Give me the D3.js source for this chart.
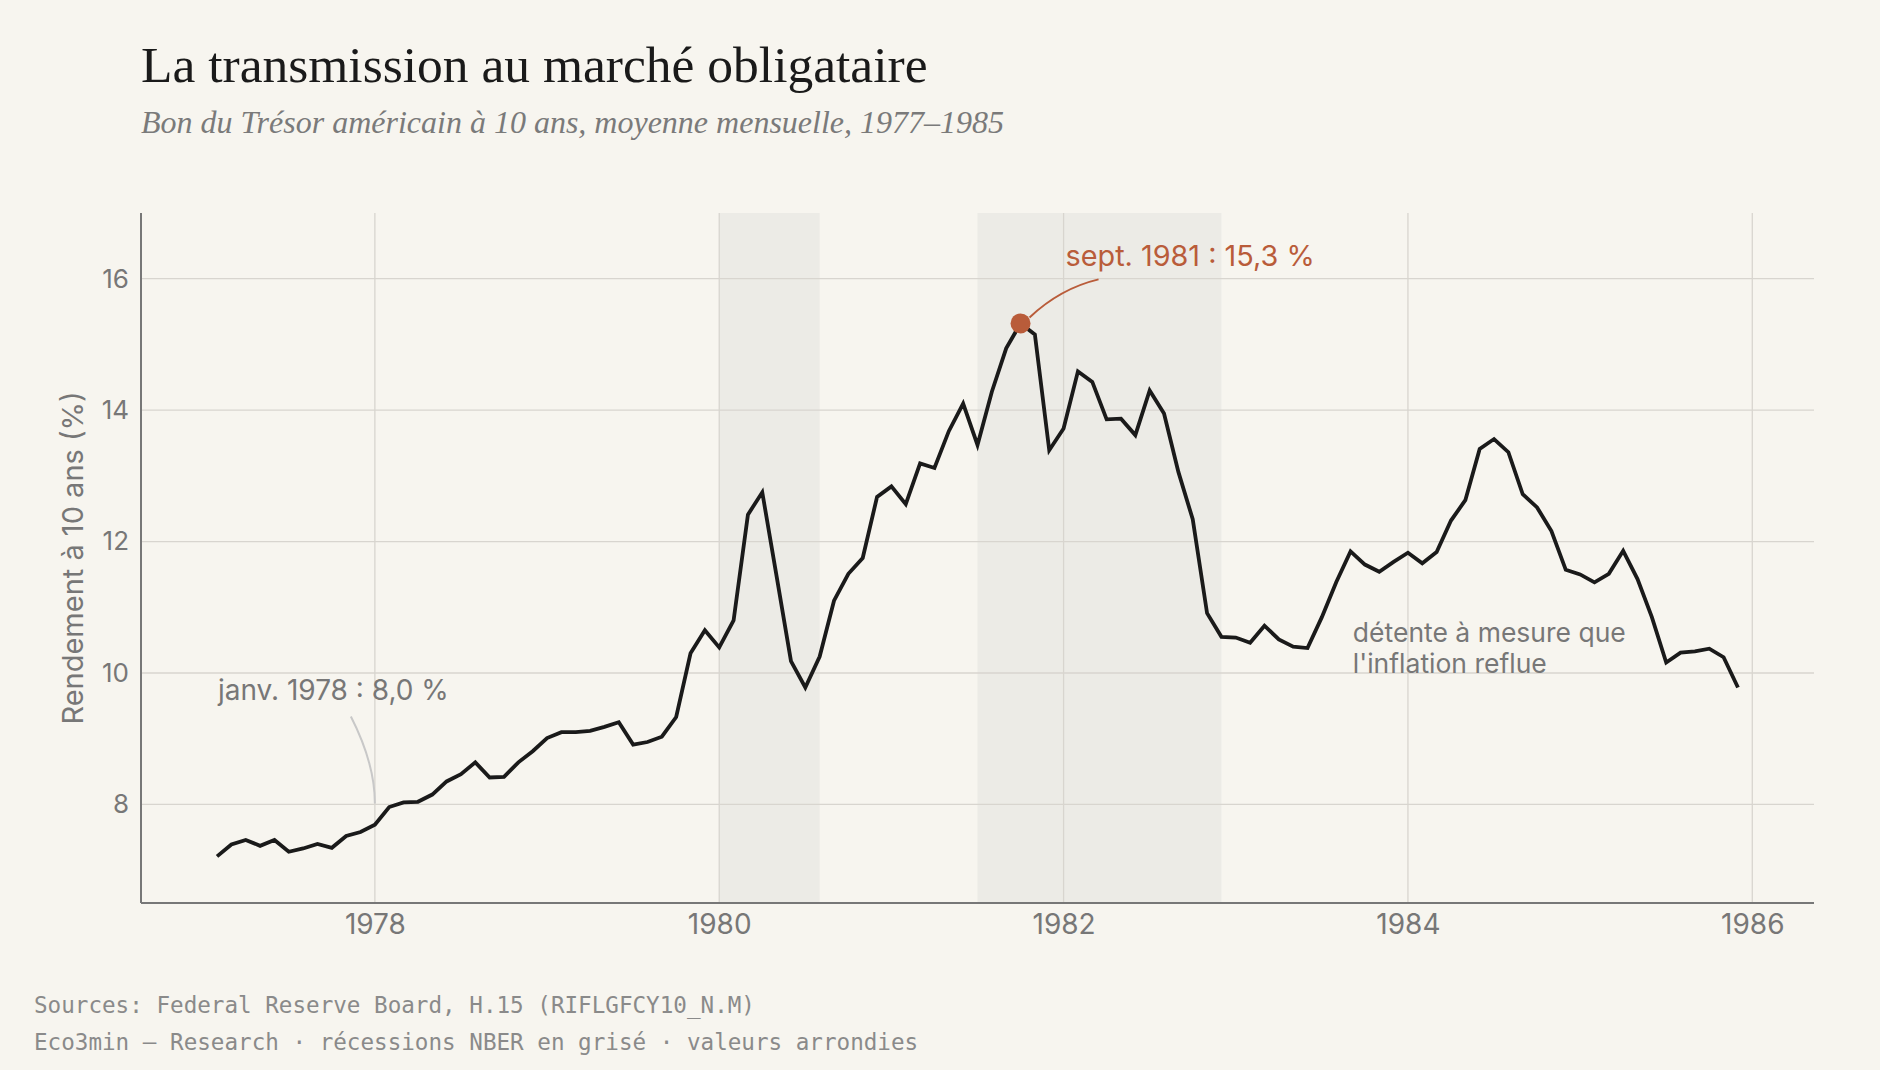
<!DOCTYPE html>
<html lang="fr">
<head>
<meta charset="UTF-8">
<title>La transmission au marché obligataire</title>
<script src="https://cdn.jsdelivr.net/npm/d3@7"></script>
<style>
  html, body { margin: 0; padding: 0; background: #f7f5ef; }
  svg { display: block; }
  .title { font-family: "Liberation Serif", serif; fill: #1a1a1a; }
  .subtitle { font-family: "Liberation Serif", serif; font-style: italic; fill: #7a7a7a; }
  .sans { font-family: Inter, "Noto Sans", sans-serif; }
  .foot { font-family: "DejaVu Sans Mono", monospace; fill: #8a8a8a; }
</style>
</head>
<body>
<svg width="1880" height="1070"></svg>
<script>
  // rendement mensuel du 10 ans (%)
  const years = [1977, 1978, 1979, 1980, 1981, 1982, 1983, 1984, 1985];
  const y1977 = [7.21, 7.39, 7.46, 7.37, 7.46, 7.28, 7.33, 7.40, 7.34, 7.52, 7.58, 7.69];
  const y1978 = [7.96, 8.03, 8.04, 8.15, 8.35, 8.46, 8.64, 8.41, 8.42, 8.64, 8.81, 9.01];
  const y1979 = [9.10, 9.10, 9.12, 9.18, 9.25, 8.91, 8.95, 9.03, 9.33, 10.30, 10.65, 10.39];
  const y1980 = [10.80, 12.41, 12.75, 11.47, 10.18, 9.78, 10.25, 11.10, 11.51, 11.75, 12.68, 12.84];
  const y1981 = [12.57, 13.19, 13.12, 13.68, 14.10, 13.47, 14.28, 14.94, 15.32, 15.15, 13.39, 13.72];
  const y1982 = [14.59, 14.43, 13.86, 13.87, 13.62, 14.30, 13.95, 13.06, 12.34, 10.91, 10.55, 10.54];
  const y1983 = [10.46, 10.72, 10.51, 10.40, 10.38, 10.85, 11.38, 11.85, 11.65, 11.54, 11.69, 11.83];
  const y1984 = [11.67, 11.84, 12.32, 12.63, 13.41, 13.56, 13.36, 12.72, 12.52, 12.16, 11.57, 11.50];
  const y1985 = [11.38, 11.51, 11.86, 11.43, 10.85, 10.16, 10.31, 10.33, 10.37, 10.24, 9.78];
  const yieldsByYear = [y1977, y1978, y1979, y1980, y1981, y1982, y1983, y1984, y1985];

  // récessions NBER (mois de début / mois de fin, inclus)
  const recessionStart = ["1980-01", "1981-07"];
  const recessionEnd = ["1980-07", "1982-11"];

  const xTicks = [1978, 1980, 1982, 1984, 1986];
  const yTicks = [8, 10, 12, 14, 16];

  const svg = d3.select("svg");
  const width = +svg.attr("width");
  const height = +svg.attr("height");
  const margin = { top: 213, right: 66, bottom: 167, left: 141 };
  const innerWidth = width - margin.left - margin.right;
  const innerHeight = height - margin.top - margin.bottom;
  const sansFont = "Inter, 'Noto Sans', sans-serif";

  svg.append("rect").attr("width", width).attr("height", height).attr("fill", "#f7f5ef");

  // chaque mois est placé en fin de mois : année + mois/12
  const data = [];
  years.forEach((yr, i) => {
    yieldsByYear[i].forEach((v, m) => data.push({ t: yr + (m + 1) / 12, v: v }));
  });
  const monthStart = s => +s.slice(0, 4) + (+s.slice(5, 7) - 1) / 12;
  const monthEnd = s => +s.slice(0, 4) + (+s.slice(5, 7)) / 12;

  const ext = d3.extent(data, d => d.t);
  const pad = (ext[1] - ext[0]) * 0.05;
  const x = d3.scaleLinear().domain([ext[0] - pad, ext[1] + pad]).range([0, innerWidth]);
  const y = d3.scaleLinear().domain([6.5, 17]).range([innerHeight, 0]);

  const g = svg.append("g").attr("transform", `translate(${margin.left},${margin.top})`);

  // bandes de récession
  g.append("g").selectAll("rect")
    .data(recessionStart.map((s, i) => [monthStart(s), monthEnd(recessionEnd[i])]))
    .join("rect")
    .attr("x", d => x(d[0]))
    .attr("width", d => x(d[1]) - x(d[0]))
    .attr("y", 0)
    .attr("height", innerHeight)
    .attr("fill", "#ecebe6");

  // grille
  g.append("g").selectAll("line")
    .data(yTicks)
    .join("line")
    .attr("x1", 0).attr("x2", innerWidth)
    .attr("y1", d => y(d)).attr("y2", d => y(d))
    .attr("stroke", "#d8d5cf").attr("stroke-width", 1.3);

  g.append("g").selectAll("line")
    .data(xTicks)
    .join("line")
    .attr("x1", d => x(d)).attr("x2", d => x(d))
    .attr("y1", 0).attr("y2", innerHeight)
    .attr("stroke", "#d8d5cf").attr("stroke-width", 1.3);

  // axes
  const yAxis = g.append("g")
    .call(d3.axisLeft(y).tickValues(yTicks).tickSize(0).tickPadding(12))
    .attr("font-family", sansFont)
    .attr("font-size", 26);
  yAxis.select(".domain").remove();
  yAxis.selectAll("text").attr("fill", "#777");

  const xAxis = g.append("g")
    .attr("transform", `translate(0,${innerHeight})`)
    .call(d3.axisBottom(x).tickValues(xTicks).tickFormat(d3.format("d")).tickSize(0).tickPadding(11))
    .attr("font-family", sansFont)
    .attr("font-size", 28);
  xAxis.select(".domain").remove();
  xAxis.selectAll("text").attr("fill", "#777");

  g.append("line")
    .attr("x1", 0).attr("x2", 0).attr("y1", 0).attr("y2", innerHeight)
    .attr("stroke", "#777").attr("stroke-width", 2);
  g.append("line")
    .attr("x1", 0).attr("x2", innerWidth).attr("y1", innerHeight).attr("y2", innerHeight)
    .attr("stroke", "#777").attr("stroke-width", 2.2);

  g.append("text")
    .attr("class", "sans")
    .attr("transform", `translate(${-58},${innerHeight / 2}) rotate(-90)`)
    .attr("text-anchor", "middle")
    .attr("font-size", 29)
    .attr("fill", "#777")
    .text("Rendement à 10 ans (%)");

  // courbe
  const line = d3.line().x(d => x(d.t)).y(d => y(d.v));
  g.append("path")
    .datum(data)
    .attr("d", line)
    .attr("fill", "none")
    .attr("stroke", "#1a1a1a")
    .attr("stroke-width", 3.8);

  // annotation : pic de sept. 1981
  const peak = data.reduce((a, b) => (b.v > a.v ? b : a));
  const px = x(peak.t), py = y(peak.v);
  g.append("path")
    .attr("d", `M${px + 9},${py - 6} Q${px + 40},${py - 35} ${px + 78},${py - 44}`)
    .attr("fill", "none")
    .attr("stroke", "#b95c3a")
    .attr("stroke-width", 2);
  g.append("circle")
    .attr("cx", px).attr("cy", py).attr("r", 10)
    .attr("fill", "#b95c3a");
  g.append("text")
    .attr("class", "sans")
    .attr("x", px + 45).attr("y", py - 57)
    .attr("font-size", 28.8)
    .attr("fill", "#b95c3a")
    .text("sept. 1981 : 15,3 %");

  // annotation : janv. 1978
  const jx = x(1978), jy = y(8.0);
  g.append("path")
    .attr("d", `M${jx - 24},${jy - 88} Q${jx},${jy - 41} ${jx},${jy - 1}`)
    .attr("fill", "none")
    .attr("stroke", "#c8c8c8")
    .attr("stroke-width", 2);
  g.append("text")
    .attr("class", "sans")
    .attr("x", jx - 157).attr("y", jy - 104)
    .attr("font-size", 28)
    .attr("fill", "#777")
    .text("janv. 1978 : 8,0 %");

  // annotation : détente
  const nx = x(1983.68);
  const note = g.append("text")
    .attr("class", "sans")
    .attr("x", nx).attr("y", y(10.47))
    .attr("font-size", 26.5)
    .attr("fill", "#777");
  note.append("tspan").attr("x", nx).text("détente à mesure que");
  note.append("tspan").attr("x", nx).attr("dy", 31).text("l'inflation reflue");

  // titres
  svg.append("text")
    .attr("class", "title")
    .attr("x", 141).attr("y", 82)
    .attr("font-size", 51.5)
    .text("La transmission au marché obligataire");
  svg.append("text")
    .attr("class", "subtitle")
    .attr("x", 141).attr("y", 133)
    .attr("font-size", 32)
    .text("Bon du Trésor américain à 10 ans, moyenne mensuelle, 1977–1985");

  // sources
  svg.append("text")
    .attr("class", "foot")
    .attr("x", 34).attr("y", 1013)
    .attr("font-size", 22.6)
    .text("Sources: Federal Reserve Board, H.15 (RIFLGFCY10_N.M)");
  svg.append("text")
    .attr("class", "foot")
    .attr("x", 34).attr("y", 1050)
    .attr("font-size", 22.6)
    .text("Eco3min — Research · récessions NBER en grisé · valeurs arrondies");
</script>
</body>
</html>
